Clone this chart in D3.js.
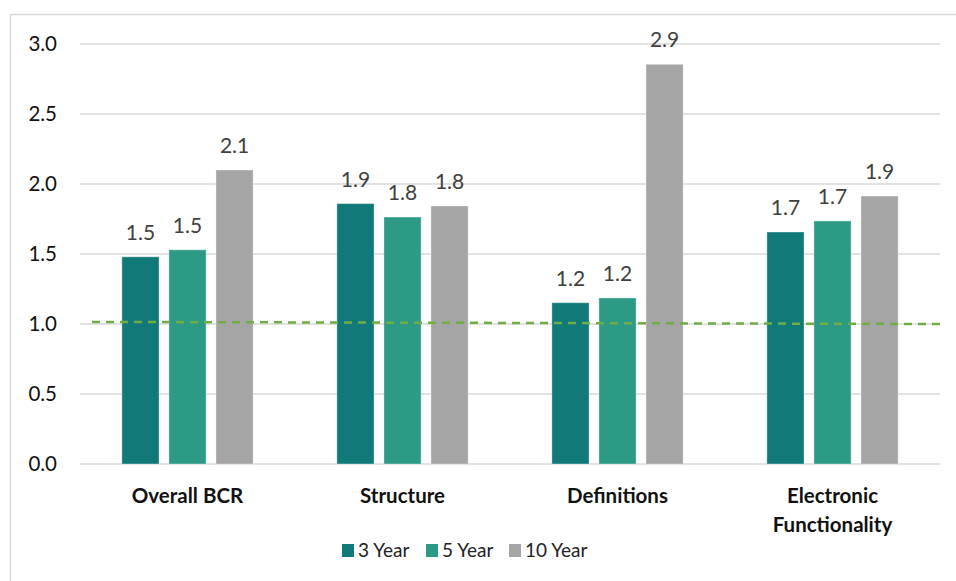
<!DOCTYPE html>
<html>
<head>
<meta charset="utf-8">
<script src="https://cdn.jsdelivr.net/npm/d3@7"></script>
<style>
  body { margin: 0; background: #fff; }
  svg text { font-family: Lato, "Open Sans", sans-serif; }
</style>
</head>
<body>
<svg id="chart" width="956" height="581"></svg>
<script>
// chart data
var categories = [["Overall BCR"], ["Structure"], ["Definitions"], ["Electronic", "Functionality"]];
var series = ["3 Year", "5 Year", "10 Year"];
var colors = ["#117A78", "#2D9A86", "#A5A5A5"];
var year3  = [1.48, 1.86, 1.152, 1.657];
var year5  = [1.53, 1.764, 1.186, 1.736];
var year10 = [2.1, 1.843, 2.855, 1.914];
var yTicks = [0, 0.5, 1.0, 1.5, 2.0, 2.5, 3.0];
var trend = [1.015, 1.0];   // dashed reference line, left and right ends

var values = [year3, year5, year10];

var svg = d3.select('#chart');
var plotLeft = 80, plotRight = 940, plotTop = 44, plotBottom = 464;

// outer chart border (open to the right and bottom like the source)
svg.append('rect')
    .attr('x', 10.5).attr('y', 14.5)
    .attr('width', 1000).attr('height', 1000)
    .attr('fill', 'none')
    .attr('stroke', '#d9d9d9')
    .attr('stroke-width', 1.5);

var y = d3.scaleLinear().domain([0, 3]).range([plotBottom, plotTop]);
var x0 = d3.scaleBand().domain(d3.range(categories.length)).range([plotLeft, plotRight]);
var x1 = d3.scaleBand().domain(d3.range(series.length))
    .range([0, x0.bandwidth()])
    .paddingInner(0.21)
    .paddingOuter(0.89);

// gridlines
svg.append('g').selectAll('line')
    .data(yTicks)
    .enter().append('line')
        .attr('x1', plotLeft).attr('x2', plotRight)
        .attr('y1', function(d) { return y(d); })
        .attr('y2', function(d) { return y(d); })
        .attr('stroke', '#d9d9d9')
        .attr('stroke-width', 1.3);

// y tick labels
svg.append('g').selectAll('text')
    .data(yTicks)
    .enter().append('text')
        .attr('x', 57)
        .attr('y', function(d) { return y(d) + 7; })
        .attr('text-anchor', 'end')
        .attr('font-size', '20.5px')
        .attr('fill', '#111')
        .text(function(d) { return d.toFixed(1); });

// bars
var groups = svg.append('g').selectAll('g')
    .data(categories)
    .enter().append('g')
        .attr('transform', function(d, i) { return 'translate(' + x0(i) + ',0)'; });

groups.each(function(cat, ci) {
    var g = d3.select(this);
    for (var s = 0; s < series.length; s++) {
        var v = values[s][ci];
        g.append('rect')
            .attr('x', x1(s))
            .attr('y', y(v))
            .attr('width', x1.bandwidth())
            .attr('height', y(0) - y(v))
            .attr('fill', colors[s])
            .attr('stroke', '#ffffff')
            .attr('stroke-opacity', 0.35)
            .attr('stroke-width', 1);
        g.append('text')
            .attr('x', x1(s) + x1.bandwidth() / 2)
            .attr('y', y(v) - 17)
            .attr('text-anchor', 'middle')
            .attr('font-size', '21px')
            .attr('fill', '#404040')
            .text(v.toFixed(1));
    }
    var lbl = g.append('text')
        .attr('text-anchor', 'middle')
        .attr('font-size', '20.5px')
        .attr('font-weight', 'bold')
        .attr('fill', '#111');
    cat.forEach(function(line, li) {
        lbl.append('tspan')
            .attr('x', x0.bandwidth() / 2)
            .attr('y', 503 + li * 29)
            .text(line);
    });
});

// dashed reference line
svg.append('line')
    .attr('x1', plotLeft + 12).attr('x2', plotRight)
    .attr('y1', y(trend[0])).attr('y2', y(trend[1]))
    .attr('stroke', '#70AD47')
    .attr('stroke-width', 2.5)
    .attr('stroke-dasharray', '8,6');

// legend
var legendX = [342, 426, 509];
var legend = svg.append('g').selectAll('g')
    .data(series)
    .enter().append('g')
        .attr('transform', function(d, i) { return 'translate(' + legendX[i] + ',544)'; });
legend.append('rect')
    .attr('width', 12).attr('height', 13)
    .attr('fill', function(d, i) { return colors[i]; });
legend.append('text')
    .attr('x', 16).attr('y', 13)
    .attr('font-size', '19px')
    .attr('fill', '#222')
    .text(function(d) { return d; });
</script>
</body>
</html>
